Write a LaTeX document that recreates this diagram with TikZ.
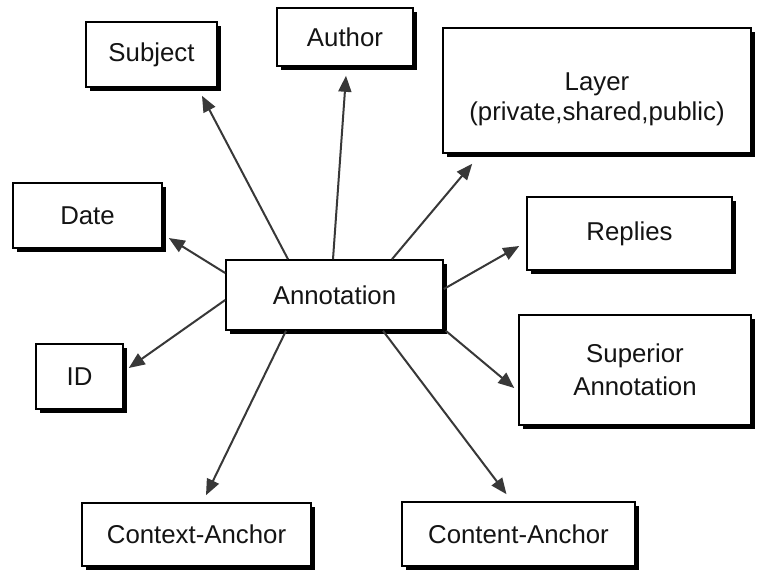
\documentclass[tikz,border=0pt]{standalone}
\usepackage{fontspec}
\setmainfont{Liberation Sans}
\usetikzlibrary{arrows.meta,shadows}

\tikzset{
  boxtext/.style={inner sep=0pt, align=center, text=black!92,
    font=\fontsize{25.8}{32}\selectfont},
  box/.style={boxtext, draw=black, line width=1.6pt, fill=white,
    drop shadow={shadow xshift=3.5pt, shadow yshift=-3.5pt, fill=black, opacity=1}},
  conn/.style={draw=black!78, line width=2pt,
    -{Triangle[length=16pt,width=13pt]}}
}

\begin{document}
\begin{tikzpicture}[x=1pt,y=-1pt]
  \useasboundingbox[fill=white] (0,0) rectangle (757,574);

  % entity boxes
  \node[box, minimum width=131pt, minimum height=65pt] (subject) at (151.5,54.5) {Subject};
  \node[box, minimum width=136pt, minimum height=58pt] (author) at (345,37) {Author};
  \node[box, minimum width=308pt, minimum height=125pt] (layer) at (597,90.5) {};
  \node[boxtext] (layertext) at ([yshift=-9pt]layer.center)
    {Layer\\[-2pt](private,shared,public)};
  \node[box, minimum width=149pt, minimum height=65pt] (date) at (87.5,215.5) {Date};
  \node[box, minimum width=205pt, minimum height=73pt] (replies) at (629.5,233.5) {Replies};
  \node[box, minimum width=217pt, minimum height=70pt] (ann) at (334.5,295) {Annotation};
  \node[box, minimum width=87pt, minimum height=65pt] (id) at (79.5,376.5) {ID};
  \node[box, minimum width=232pt, minimum height=110pt] (sup) at (635,370)
    {Superior\\[1pt]Annotation};
  \node[box, minimum width=229pt, minimum height=63pt] (ctx) at (196.5,534.5) {Context-Anchor};
  \node[box, minimum width=233pt, minimum height=64pt] (cnt) at (518.5,534) {Content-Anchor};

  % relations from the annotation
  \draw[conn] ([xshift=-46.5pt]ann.north) -- ([xshift=50.5pt,yshift=-8pt]subject.south);
  \draw[conn] ([xshift=-1.5pt]ann.north) -- ([xshift=1pt,yshift=-9pt]author.south);
  \draw[conn] ([xshift=57.5pt]ann.north) -- ([xshift=30pt,yshift=-10pt]layer.south west);
  \draw[conn] ([yshift=22pt]ann.west) -- ([xshift=6pt,yshift=-22.5pt]date.east);
  \draw[conn] ([yshift=6pt]ann.east) -- ([xshift=-7pt,yshift=-12.5pt]replies.west);
  \draw[conn] ([yshift=-5pt]ann.west) -- ([xshift=5pt,yshift=8.5pt]id.east);
  \draw[conn] ([xshift=2pt]ann.south east) -- ([xshift=-4pt,yshift=-18pt]sup.west);
  \draw[conn] ([xshift=-48.5pt]ann.south) -- ([xshift=9.5pt,yshift=7pt]ctx.north);
  \draw[conn] ([xshift=48.5pt]ann.south) -- ([xshift=-12pt,yshift=7pt]cnt.north);
\end{tikzpicture}
\end{document}
